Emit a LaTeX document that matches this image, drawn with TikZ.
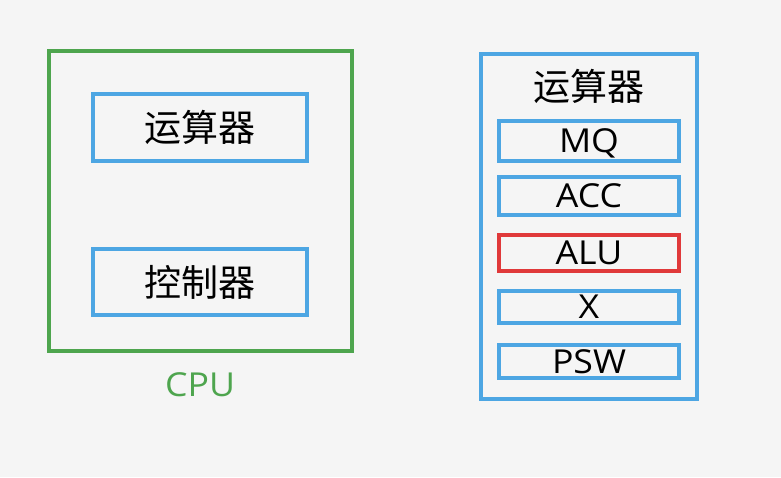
\documentclass[tikz,border=0pt]{standalone}
\usepackage{fontspec}
\setmainfont{Noto Sans CJK SC}
\newfontfamily\latinfont[FakeStretch=1.08]{Open Sans}
\usepackage{xcolor}
\definecolor{boxblue}{HTML}{4DA6E3}
\definecolor{cpugreen}{HTML}{4EA54E}
\definecolor{alured}{HTML}{E0393A}
\definecolor{bg}{HTML}{F5F5F5}
\begin{document}
\begin{tikzpicture}[x=1pt,y=-1pt,
  cjk/.style={font=\fontsize{37}{37}\selectfont},
  lat/.style={font=\latinfont\fontsize{33}{33}\selectfont, text height=23.5pt, text depth=0pt},
  blk/.style={draw=boxblue, line width=4pt, minimum width=214pt, inner sep=0pt, cjk},
  reg/.style={draw=boxblue, line width=4pt, minimum width=180pt, inner sep=0pt, lat}]
\useasboundingbox[fill=bg] (0,0) rectangle (781,477);
% CPU
\node[draw=cpugreen, line width=4pt, minimum width=303pt, minimum height=300pt] (cpu) at (200.5,201) {};
\node[blk, minimum height=67pt] (alu1) at (200,127.5) {运算器};
\node[blk, minimum height=66pt] (ctl) at (200,282) {控制器};
\node[lat, text=cpugreen, inner sep=0pt] (cpulbl) at (200,385) {CPU};
% ALU registers
\node[draw=boxblue, line width=4pt, minimum width=216pt, minimum height=345pt] (alu2) at (589,226.5) {};
\node[cjk, inner sep=0pt] (title) at (589,86) {运算器};
\node[reg, minimum height=40pt] (mq) at (589,141) {MQ};
\node[reg, minimum height=38pt] (acc) at (589,196) {ACC};
\node[reg, draw=alured, minimum height=36pt] (alu) at (589,253) {ALU};
\node[reg, minimum height=32pt] (x) at (589,307) {X};
\node[reg, minimum height=33pt] (psw) at (589,361.5) {PSW};
\end{tikzpicture}
\end{document}
